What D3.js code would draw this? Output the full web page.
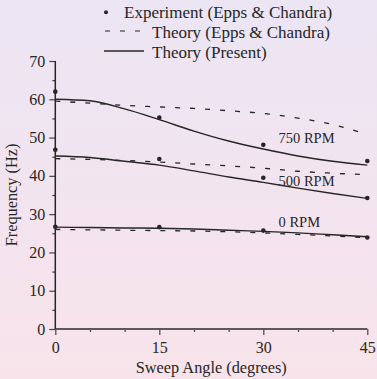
<!DOCTYPE html>
<html>
<head>
<meta charset="utf-8">
<script src="https://cdn.jsdelivr.net/npm/d3@7"></script>
<style>
  html, body { margin: 0; padding: 0; }
  svg { display: block; }
  svg text { font-family: "Liberation Serif", "Times New Roman", serif; }
</style>
</head>
<body>
<svg id="chart"></svg>
<script>
const width = 377;
const height = 379;

// sweep angles of the experiment points
const angles = [0, 15, 30, 45];
// experiment (Epps & Chandra)
const exp0 = [26.7, 26.6, 25.7, 23.9];
const exp500 = [46.8, 44.4, 39.5, 34.2];
const exp750 = [62.0, 55.2, 48.1, 43.9];

// theory curves, read every 5 degrees
const curveAngles = [0, 5, 10, 15, 20, 25, 30, 35, 40, 45];
const epps0 = [26.0, 25.9, 25.8, 25.7, 25.6, 25.4, 25.1, 24.7, 24.3, 23.8];
const epps500 = [44.5, 44.3, 44.0, 43.6, 43.1, 42.6, 42.0, 41.2, 40.7, 40.3];
const epps750 = [59.5, 59.0, 58.4, 58.0, 57.6, 57.0, 56.3, 55.1, 53.4, 50.8];
const pres0 = [26.6, 26.5, 26.4, 26.3, 26.1, 25.8, 25.5, 25.1, 24.6, 24.1];
const pres500 = [45.2, 44.8, 43.8, 42.8, 41.3, 39.7, 38.3, 36.8, 35.4, 34.1];
const pres750 = [60.0, 59.6, 57.5, 54.7, 51.7, 49.1, 47.0, 45.2, 43.8, 42.8];

const xTicks = [0, 15, 30, 45];
const yTicks = [0, 10, 20, 30, 40, 50, 60, 70];
const speedLabels = ["750 RPM", "500 RPM", "0 RPM"];
const legendLabels = ["Experiment (Epps & Chandra)", "Theory (Epps & Chandra)", "Theory (Present)"];

const ink = "#262626";
const serif = "Liberation Serif, Times New Roman, serif";

const svg = d3.select("#chart")
    .attr("width", width)
    .attr("height", height);

// soft lavender-to-pink background
const grad = svg.append("defs").append("linearGradient")
    .attr("id", "bg")
    .attr("x1", 0).attr("y1", 0).attr("x2", 0).attr("y2", 1);
grad.append("stop").attr("offset", "0%").attr("stop-color", "#ece5f4");
grad.append("stop").attr("offset", "100%").attr("stop-color", "#f8e3ea");
svg.append("rect")
    .attr("width", width)
    .attr("height", height)
    .attr("fill", "url(#bg)");

const x = d3.scaleLinear().domain([0, 45]).range([55.3, 367.3]);
const y = d3.scaleLinear().domain([0, 70]).range([329, 61]);

// axes
const xAxis = svg.append("g")
    .attr("transform", `translate(0,${y(0)})`)
    .call(d3.axisBottom(x).tickValues(xTicks).tickSize(6).tickPadding(7));
xAxis.append("g")
    .call(d3.axisBottom(x).tickValues(d3.range(5, 45, 5).filter(v => v % 15)).tickSize(3).tickFormat(""));
xAxis.selectAll(".domain").remove();
xAxis.append("line")
    .attr("x1", x(0)).attr("x2", x(45))
    .attr("stroke", "#5a5a5a").attr("stroke-width", 2);

const yAxis = svg.append("g")
    .attr("transform", `translate(${x(0)},0)`)
    .call(d3.axisLeft(y).tickValues(yTicks).tickSize(6).tickPadding(4));
yAxis.append("g")
    .call(d3.axisLeft(y).tickValues(d3.range(5, 70, 10)).tickSize(3).tickFormat(""));
yAxis.selectAll(".domain").remove();
yAxis.append("line")
    .attr("y1", y(0)).attr("y2", y(70))
    .attr("stroke", ink).attr("stroke-width", 1.5);

svg.selectAll("g").attr("font-family", serif);
svg.selectAll(".tick line").attr("stroke", "#444").attr("stroke-width", 1.2);
svg.selectAll(".tick text")
    .attr("fill", ink)
    .attr("font-size", 16);

// axis titles
svg.append("text")
    .attr("x", (x(0) + x(45)) / 2)
    .attr("y", 373)
    .attr("text-anchor", "middle")
    .attr("fill", ink)
    .attr("font-size", 16.3)
    .text("Sweep Angle (degrees)");

svg.append("text")
    .attr("transform", `translate(17,${y(35)}) rotate(-90)`)
    .attr("text-anchor", "middle")
    .attr("fill", ink)
    .attr("font-size", 16.3)
    .text("Frequency (Hz)");

// theory lines
const line = d3.line()
    .x((d, i) => x(curveAngles[i]))
    .y(d => y(d))
    .curve(d3.curveMonotoneX);

[epps0, epps500, epps750].forEach(s => {
    svg.append("path")
        .attr("d", line(s))
        .attr("fill", "none")
        .attr("stroke", ink)
        .attr("stroke-width", 1.3)
        .attr("stroke-dasharray", "5,10");
});

[pres0, pres500, pres750].forEach(s => {
    svg.append("path")
        .attr("d", line(s))
        .attr("fill", "none")
        .attr("stroke", ink)
        .attr("stroke-width", 1.4);
});

// experiment points
[exp0, exp500, exp750].forEach(s => {
    svg.append("g").selectAll("circle")
        .data(s)
        .enter()
        .append("circle")
        .attr("cx", (d, i) => x(angles[i]))
        .attr("cy", d => y(d))
        .attr("r", 2.3)
        .attr("fill", ink);
});

// speed labels
const labelPos = [48.6, 37.4, 26.6];
speedLabels.forEach((t, i) => {
    svg.append("text")
        .attr("x", x(32.2))
        .attr("y", y(labelPos[i]))
        .attr("fill", ink)
        .attr("font-size", 14.5)
        .text(t);
});

// legend
const legend = svg.append("g");
legend.append("circle")
    .attr("cx", 106).attr("cy", 12.3).attr("r", 2)
    .attr("fill", ink);
legend.append("line")
    .attr("x1", 105).attr("x2", 141).attr("y1", 31).attr("y2", 31)
    .attr("stroke", ink).attr("stroke-width", 1.2)
    .attr("stroke-dasharray", "5,10");
legend.append("line")
    .attr("x1", 104).attr("x2", 144).attr("y1", 51).attr("y2", 51)
    .attr("stroke", ink).attr("stroke-width", 1.3);
const legendX = [124, 152, 152];
legendLabels.forEach((t, i) => {
    legend.append("text")
        .attr("x", legendX[i])
        .attr("y", 17.5 + i * 20)
        .attr("fill", ink)
        .attr("font-size", 17)
        .text(t);
});
</script>
</body>
</html>
